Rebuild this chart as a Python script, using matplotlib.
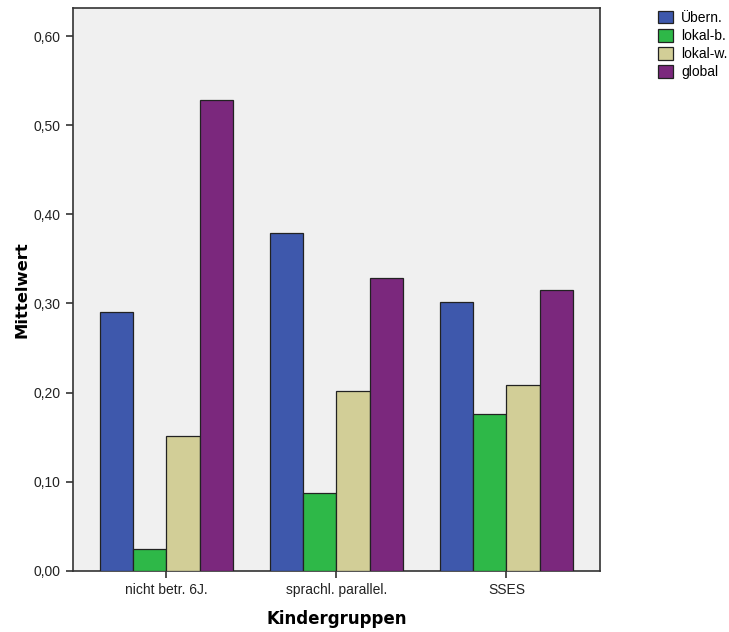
import numpy as np
import matplotlib.pyplot as plt
from matplotlib.patches import Patch

plt.rcParams['font.family'] = ['Liberation Sans', 'DejaVu Sans']

# data
groups = ['nicht betr. 6J.', 'sprachl. parallel.', 'SSES']
series = ['Übern.', 'lokal-b.', 'lokal-w.', 'global']
uebern = [0.290, 0.379, 0.302]
lokal_b = [0.024, 0.087, 0.176]
lokal_w = [0.151, 0.202, 0.208]
global_ = [0.528, 0.329, 0.315]
colors = ['#3E58AC', '#2EB848', '#D2CE97', '#7B287D']

values = [uebern, lokal_b, lokal_w, global_]
yticks = [0.0, 0.1, 0.2, 0.3, 0.4, 0.5, 0.6]

fig = plt.figure(figsize=(7.29, 6.32), dpi=100)
ax = fig.add_axes([0.100, 0.097, 0.723, 0.890])
ax.set_facecolor('#F0F0F0')

x = np.arange(len(groups))
w = 0.196
for i, (vals, c) in enumerate(zip(values, colors)):
    ax.bar(x + (i - 1.5) * w, vals, width=w, color=c, edgecolor='#222222',
           linewidth=0.9, zorder=3)

ax.set_xlim(-0.55, 2.55)
ax.set_ylim(0, 0.6315)
ax.set_xticks(x)
ax.set_xticklabels(groups, fontsize=10, color='#222222')
ax.set_yticks(yticks)
ax.set_yticklabels(['{:.2f}'.format(v).replace('.', ',') for v in yticks],
                   fontsize=10, color='#222222')
ax.tick_params(direction='out', length=5, width=1.2, color='#333333', pad=4)
for s in ax.spines.values():
    s.set_color('#333333')
    s.set_linewidth(1.2)

ax.set_ylabel('Mittelwert', fontsize=11.8, fontweight='bold', family='DejaVu Sans', labelpad=3)
ax.set_xlabel('Kindergruppen', fontsize=12, fontweight='bold', family='DejaVu Sans', labelpad=9)

handles = [Patch(facecolor=c, edgecolor='#222222', linewidth=0.9) for c in colors]
fig.legend(handles, series, loc='upper left', bbox_to_anchor=(0.895, 0.992),
           frameon=False, fontsize=10, handlelength=1.05, handleheight=1.05,
           handletextpad=0.6, labelspacing=0.28, borderaxespad=0)

fig.savefig('out.png', dpi=100)
